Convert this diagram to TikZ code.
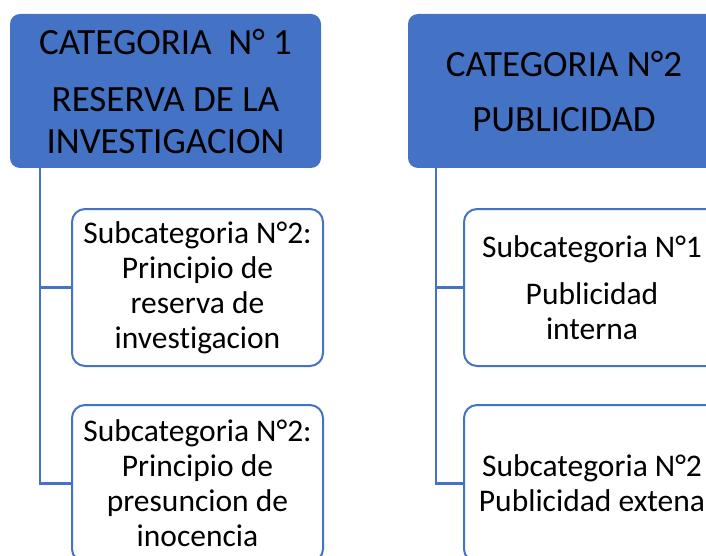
\documentclass[tikz,border=0pt]{standalone}
\usepackage{fontspec}
\setmainfont{Carlito}[Ligatures=NoCommon]
\definecolor{catblue}{HTML}{4472C4}
\begin{document}
\begin{tikzpicture}[x=1pt, y=-1pt,
    cathead/.style={rectangle, rounded corners=10pt, fill=catblue, text=black,
        align=center, font=\fontsize{37}{42}\selectfont},
    subbox/.style={rectangle, rounded corners=13pt, draw=catblue, line width=2pt,
        fill=white, align=center, font=\fontsize{31.5}{35}\selectfont,
        minimum width=251pt, minimum height=157pt},
    branch/.style={catblue, line width=2.4pt}]
    \useasboundingbox (0,0) rectangle (706,556);
    \clip (0,0) rectangle (706,556);

    \node[cathead, minimum width=311pt, minimum height=154pt] (cat1) at (165.5, 91)
        {CATEGORIA~~N° 1\\[15pt] RESERVA DE LA\\ INVESTIGACION};
    \node[cathead, minimum width=312pt, minimum height=154pt] (cat2) at (564, 91)
        {CATEGORIA N°2\\[13pt] PUBLICIDAD};

    \node[subbox] (sub11) at (197.5, 287.5)
        {Subcategoria N°2:\\ Principio de\\ reserva de\\ investigacion};
    \node[subbox] (sub12) at (197.5, 483.5)
        {Subcategoria N°2:\\ Principio de\\ presuncion de\\ inocencia};
    \node[subbox, minimum width=256pt] (sub21) at (592, 287.5)
        {Subcategoria N°1\\[12pt] Publicidad\\ interna};
    \node[subbox, minimum width=256pt] (sub22) at (592, 483.5)
        {Subcategoria N°2\\ Publicidad extena};

    \draw[branch] ([xshift=30pt]cat1.south west) |- (sub12.west);
    \draw[branch] ([xshift=30pt]cat1.south west |- sub11.west) -- (sub11.west);

    \draw[branch] ([xshift=28pt]cat2.south west) |- (sub22.west);
    \draw[branch] ([xshift=28pt]cat2.south west |- sub21.west) -- (sub21.west);
\end{tikzpicture}
\end{document}
